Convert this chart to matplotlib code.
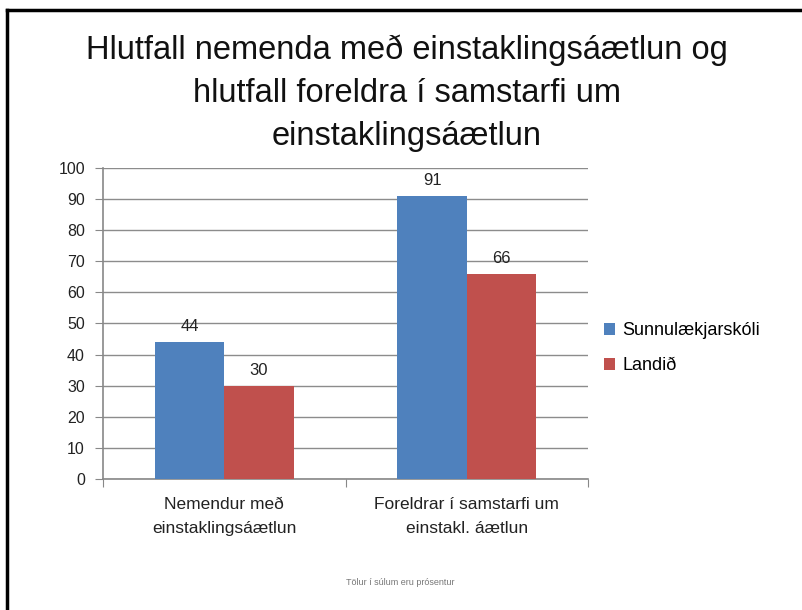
import numpy as np
import matplotlib.pyplot as plt
from matplotlib.lines import Line2D

# data
categories = ['Nemendur með\neinstaklingsáætlun', 'Foreldrar í samstarfi um\neinstakl. áætlun']
series_names = ['Sunnulækjarskóli', 'Landið']
sunnulaekur = [44, 91]
landid = [30, 66]
colors = ['#4F81BD', '#C0504D']
yticks = list(range(0, 101, 10))

plt.rcParams['font.family'] = ['Liberation Sans', 'DejaVu Sans']

fig = plt.figure(figsize=(8.03, 6.10), dpi=100)
ax = fig.add_axes([0.1283, 0.2148, 0.604, 0.5098])

x = np.arange(len(categories))
w = 0.2857
for i, (vals, name) in enumerate(zip([sunnulaekur, landid], series_names)):
    pos = x - w / 2 + i * w
    bars = ax.bar(pos, vals, width=w, color=colors[i], label=name, zorder=3)
    for b, v in zip(bars, vals):
        ax.text(b.get_x() + b.get_width() / 2, v + 2.5, str(v), ha='center',
                va='bottom', fontsize=12, color='#222222')

ax.set_xlim(-0.5, len(categories) - 0.5)
ax.set_ylim(0, 100)
ax.set_yticks(yticks)
ax.set_yticklabels([str(t) for t in yticks], fontsize=11.5, color='#222222')
ax.set_xticks([-0.5, 0.5, 1.5])
ax.set_xticklabels([])
ax.set_xticks(x, minor=True)
ax.set_xticklabels(categories, minor=True, fontsize=12.5, color='#222222',
                   linespacing=1.75)
ax.tick_params(axis='x', which='minor', length=0, pad=13)
ax.tick_params(axis='x', which='major', length=6, color='#888888', direction='out')
ax.tick_params(axis='y', length=6, color='#888888', direction='out', pad=7)
ax.yaxis.grid(True, color='#8c8c8c', linewidth=1.0, zorder=0)
for s in ['top', 'right']:
    ax.spines[s].set_visible(False)
for s in ['left', 'bottom']:
    ax.spines[s].set_color('#888888')
    ax.spines[s].set_linewidth(1.2)

fig.text(0.507, 0.944, 'Hlutfall nemenda með einstaklingsáætlun og\nhlutfall foreldra í samstarfi um\neinstaklingsáætlun',
         ha='center', va='top', fontsize=23.5, linespacing=1.5, color='#111111')

leg = ax.legend(loc='center left', bbox_to_anchor=(1.0, 0.42), frameon=False,
                fontsize=13, handlelength=0.6, handleheight=0.6, handletextpad=0.4,
                labelspacing=1.0)

fig.text(0.498, 0.045, 'Tölur í súlum eru prósentur', ha='center', va='center',
         fontsize=6.5, color='#777777')

# outer frame (left and top edges only)
fig.add_artist(Line2D([7 / 803, 7 / 803], [0, 1 - 10 / 610], transform=fig.transFigure,
                      color='black', linewidth=2.5))
fig.add_artist(Line2D([7 / 803, 1], [1 - 10 / 610, 1 - 10 / 610], transform=fig.transFigure,
                      color='black', linewidth=2.5))

fig.savefig('out.png', dpi=100)
